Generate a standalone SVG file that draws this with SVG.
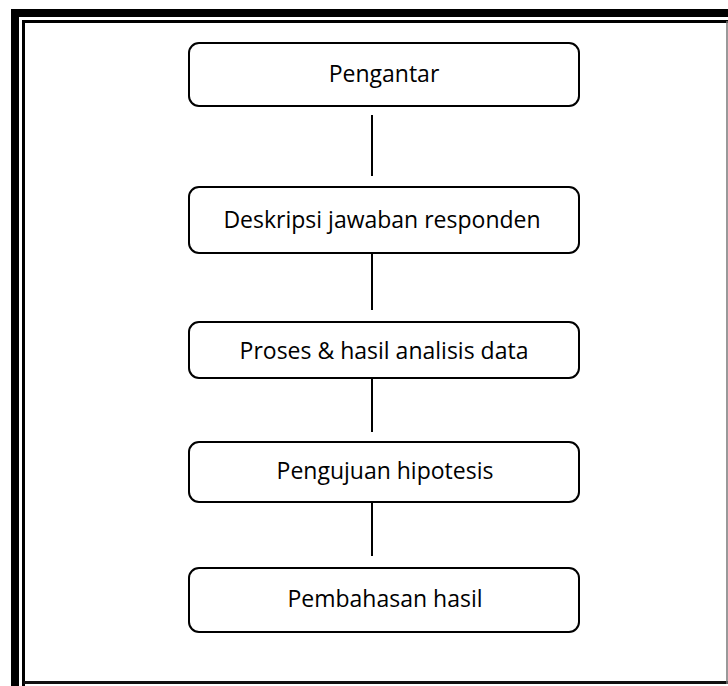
<svg xmlns="http://www.w3.org/2000/svg" width="728" height="686" viewBox="0 0 728 686">
<style>
.box{fill:#fff;stroke:#000;stroke-width:2}
.lbl{font-family:"Open Sans","Noto Sans","Liberation Sans",sans-serif;font-size:23px;fill:#000;text-anchor:middle}
.conn line{stroke:#000;stroke-width:2}
</style>
<rect width="728" height="686" fill="#fff"/>
<g id="frame">
<rect x="11" y="9" width="717" height="8" fill="#000"/>
<rect x="11" y="9" width="8" height="677" fill="#000"/>
<path d="M23.5 686 V21.5 H728" fill="none" stroke="#000" stroke-width="3"/>
<line x1="23.5" y1="682.5" x2="728" y2="682.5" stroke="#111" stroke-width="3"/>
<line x1="727" y1="21" x2="727" y2="684" stroke="#777" stroke-width="1.5"/>
</g>
<g class="conn" id="connectors">
<line x1="372" y1="115" x2="372" y2="176"/>
<line x1="372" y1="253" x2="372" y2="310"/>
<line x1="372" y1="378" x2="372" y2="432"/>
<line x1="372" y1="502" x2="372" y2="556"/>
</g>
<g id="n1"><rect class="box" x="189" y="43" width="390" height="63" rx="10"/><text class="lbl" x="384" y="82">Pengantar</text></g>
<g id="n2"><rect class="box" x="189" y="187" width="390" height="66" rx="10"/><text class="lbl" x="382" y="228">Deskripsi jawaban responden</text></g>
<g id="n3"><rect class="box" x="189" y="322" width="390" height="56" rx="10"/><text class="lbl" x="384" y="359">Proses &amp; hasil analisis data</text></g>
<g id="n4"><rect class="box" x="189" y="442" width="390" height="60" rx="10"/><text class="lbl" x="385" y="479">Pengujuan hipotesis</text></g>
<g id="n5"><rect class="box" x="189" y="568" width="390" height="64" rx="10"/><text class="lbl" x="385" y="607">Pembahasan hasil</text></g>
</svg>
